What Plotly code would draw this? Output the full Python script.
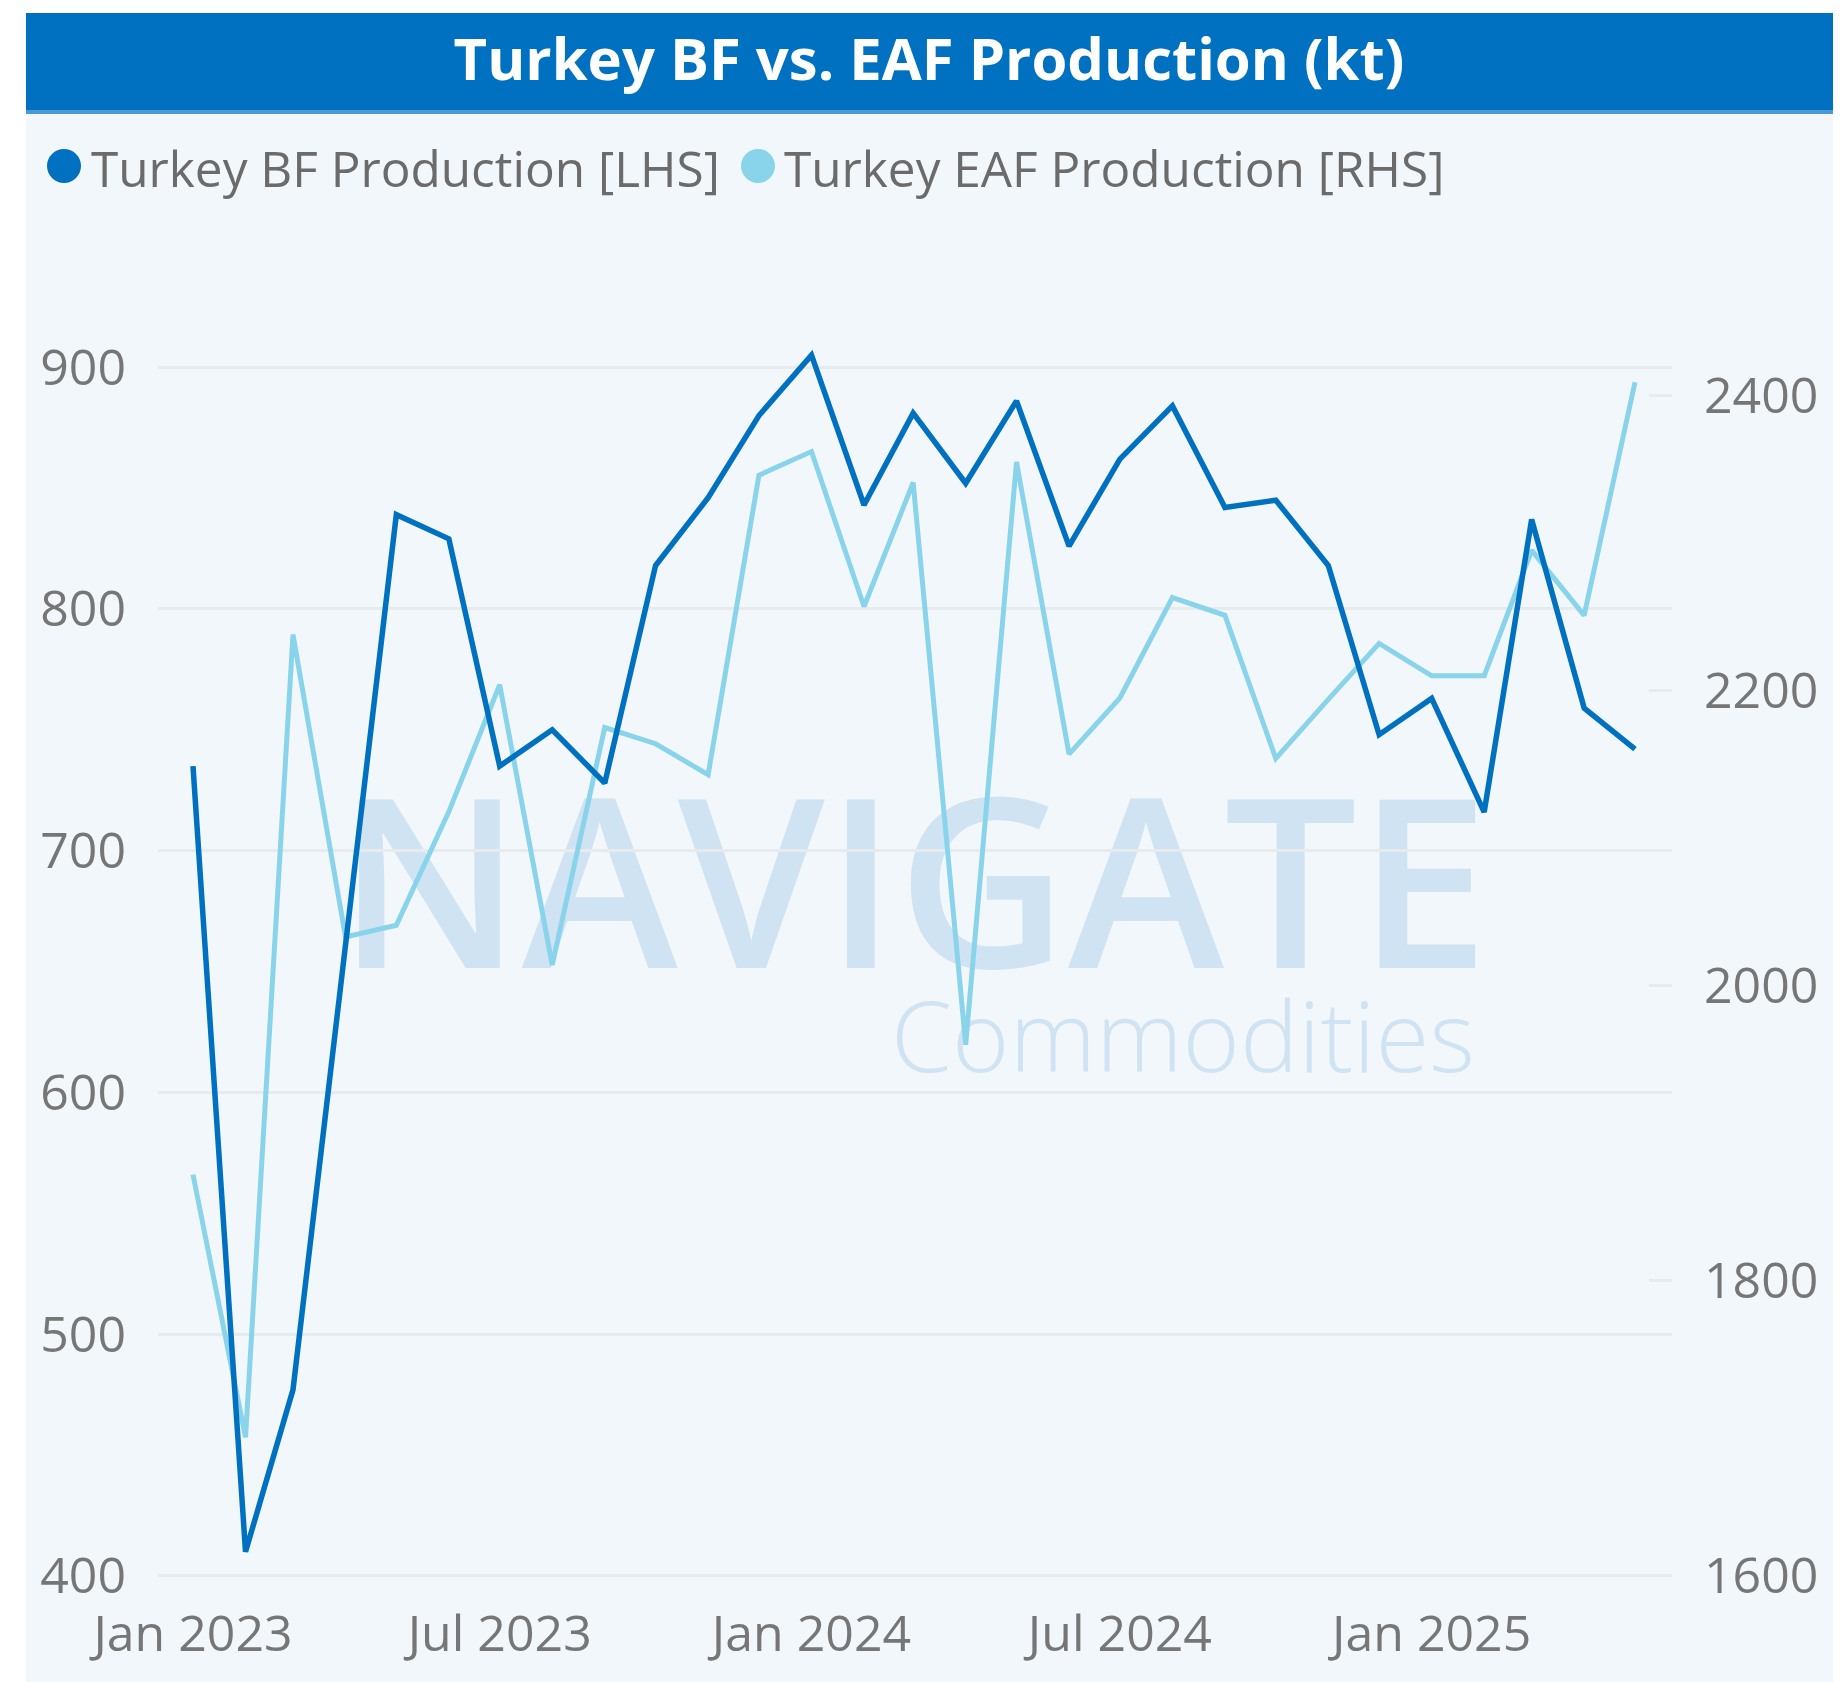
import plotly.graph_objects as go

# ---------------- data ----------------
months = ["2023-01-01", "2023-02-01", "2023-03-01", "2023-04-01", "2023-05-01", "2023-06-01",
          "2023-07-01", "2023-08-01", "2023-09-01", "2023-10-01", "2023-11-01", "2023-12-01",
          "2024-01-01", "2024-02-01", "2024-03-01", "2024-04-01", "2024-05-01", "2024-06-01",
          "2024-07-01", "2024-08-01", "2024-09-01", "2024-10-01", "2024-11-01", "2024-12-01",
          "2025-01-01", "2025-02-01", "2025-03-01", "2025-04-01", "2025-05-01"]

bf_production = [735, 410, 477, 663, 839, 829, 735, 750, 728, 818, 846, 880,
                 905, 843, 881, 852, 886, 826, 862, 884, 842, 845, 818, 748,
                 763, 716, 837, 759, 742]

eaf_production = [1872, 1694, 2238, 2033, 2041, 2118, 2204, 2014, 2175, 2164, 2143, 2346,
                  2362, 2257, 2341, 1960, 2355, 2157, 2195, 2263, 2251, 2154, 2194, 2232,
                  2210, 2210, 2295, 2251, 2409]

title_text = "Turkey BF vs. EAF Production (kt)"
bf_name = "Turkey BF Production [LHS]"
eaf_name = "Turkey EAF Production [RHS]"
left_ticks = [400, 500, 600, 700, 800, 900]
right_ticks = [1600, 1800, 2000, 2200, 2400]

# ---------------- style ----------------
W, H = 1840, 1682
ML, MR, MT, MB = 158, 168, 300, 104
PW, PH = W - ML - MR, H - MT - MB

DARK = "#0070C0"
LIGHT = "#8AD4EB"
BG = "#F2F7FC"
GRID = "#E8EBEE"
TICK = "#767676"
WM = "#CFE3F3"
FONT = "Open Sans"


def px(xp):
    return (xp - ML) / PW


def py(yp):
    return (H - MB - yp) / PH


fig = go.Figure()

fig.add_trace(go.Scatter(x=months, y=eaf_production, name=eaf_name, mode="lines",
                         line=dict(color=LIGHT, width=5), yaxis="y", showlegend=False))
fig.add_trace(go.Scatter(x=months, y=bf_production, name=bf_name, mode="lines",
                         line=dict(color=DARK, width=5.5), yaxis="y2", showlegend=False))

shapes = [
    # light panel
    dict(type="rect", xref="paper", yref="paper", x0=px(26), x1=px(1833), y0=py(1682), y1=py(112),
         fillcolor=BG, line=dict(width=0), layer="below"),
    # title band
    dict(type="rect", xref="paper", yref="paper", x0=px(26), x1=px(1833), y0=py(111), y1=py(13),
         fillcolor="#0070C0", line=dict(width=0), layer="below"),
    dict(type="rect", xref="paper", yref="paper", x0=px(26), x1=px(1833), y0=py(114), y1=py(110),
         fillcolor="#4B98D6", line=dict(width=0), layer="below"),
    # watermark
    dict(type="rect", xref="paper", yref="paper", x0=px(348), x1=px(1478), y0=py(968), y1=py(816),
         fillcolor="rgba(0,0,0,0)", line=dict(width=0), layer="below",
         label=dict(text="NAVIGATE", textposition="middle center",
                    font=dict(family=FONT, size=236, color=WM, weight=600))),
    dict(type="rect", xref="paper", yref="paper", x0=px(894), x1=px(1472), y0=py(1072), y1=py(1009),
         fillcolor="rgba(0,0,0,0)", line=dict(width=0), layer="below",
         label=dict(text="Commodities", textposition="middle center",
                    font=dict(family=FONT, size=98, color=WM, weight=300))),
    # legend markers
    dict(type="circle", xref="paper", yref="paper", xsizemode="pixel", ysizemode="pixel",
         xanchor=px(64), yanchor=py(166), x0=-17, x1=17, y0=-17, y1=17,
         fillcolor=DARK, line=dict(width=0), layer="above"),
    dict(type="circle", xref="paper", yref="paper", xsizemode="pixel", ysizemode="pixel",
         xanchor=px(758), yanchor=py(166), x0=-17, x1=17, y0=-17, y1=17,
         fillcolor=LIGHT, line=dict(width=0), layer="above"),
]

annotations = [
    dict(text=bf_name, xref="paper", yref="paper", x=px(89), y=py(168), xanchor="left", yanchor="middle",
         showarrow=False, font=dict(family=FONT, size=49.5, color="#6B6B6B")),
    dict(text=eaf_name, xref="paper", yref="paper", x=px(782), y=py(168), xanchor="left", yanchor="middle",
         showarrow=False, font=dict(family=FONT, size=49.5, color="#6B6B6B")),
]

fig.update_layout(
    width=W, height=H,
    margin=dict(l=ML, r=MR, t=MT, b=MB, pad=0),
    paper_bgcolor="white",
    plot_bgcolor="rgba(0,0,0,0)",
    font=dict(family=FONT, color=TICK),
    title=dict(text="<b>" + title_text + "</b>", x=929 / W, xref="container", xanchor="center",
               y=1 - 60 / H, yref="container", yanchor="middle",
               font=dict(family=FONT, size=58, color="white")),
    showlegend=False,
    shapes=shapes,
    annotations=annotations,
    xaxis=dict(
        type="date",
        range=["2022-12-11 08:24", "2025-05-22 20:00"],
        tick0="2023-01-01", dtick="M6", tickformat="%b %Y",
        showgrid=False, zeroline=False, showline=False, ticks="",
        tickfont=dict(family=FONT, size=50, color=TICK),
        ticklabelstandoff=22,
    ),
    yaxis=dict(
        side="right",
        range=[1598.64, 2464.7],
        tickvals=right_ticks,
        showgrid=False, zeroline=False, showline=False,
        ticks="inside", ticklen=23, tickwidth=3, tickcolor=GRID,
        tickfont=dict(family=FONT, size=50, color=TICK),
        ticklabelstandoff=31,
    ),
    yaxis2=dict(
        side="left", overlaying="y", anchor="x",
        range=[399.17, 927.8],
        tickvals=left_ticks,
        showgrid=True, gridcolor=GRID, gridwidth=3,
        zeroline=False, showline=False, ticks="",
        tickfont=dict(family=FONT, size=50, color=TICK),
        ticklabelstandoff=31,
    ),
)

fig.write_html("out.html", config={"displayModeBar": False},
               post_script="document.body.style.margin='0';")
